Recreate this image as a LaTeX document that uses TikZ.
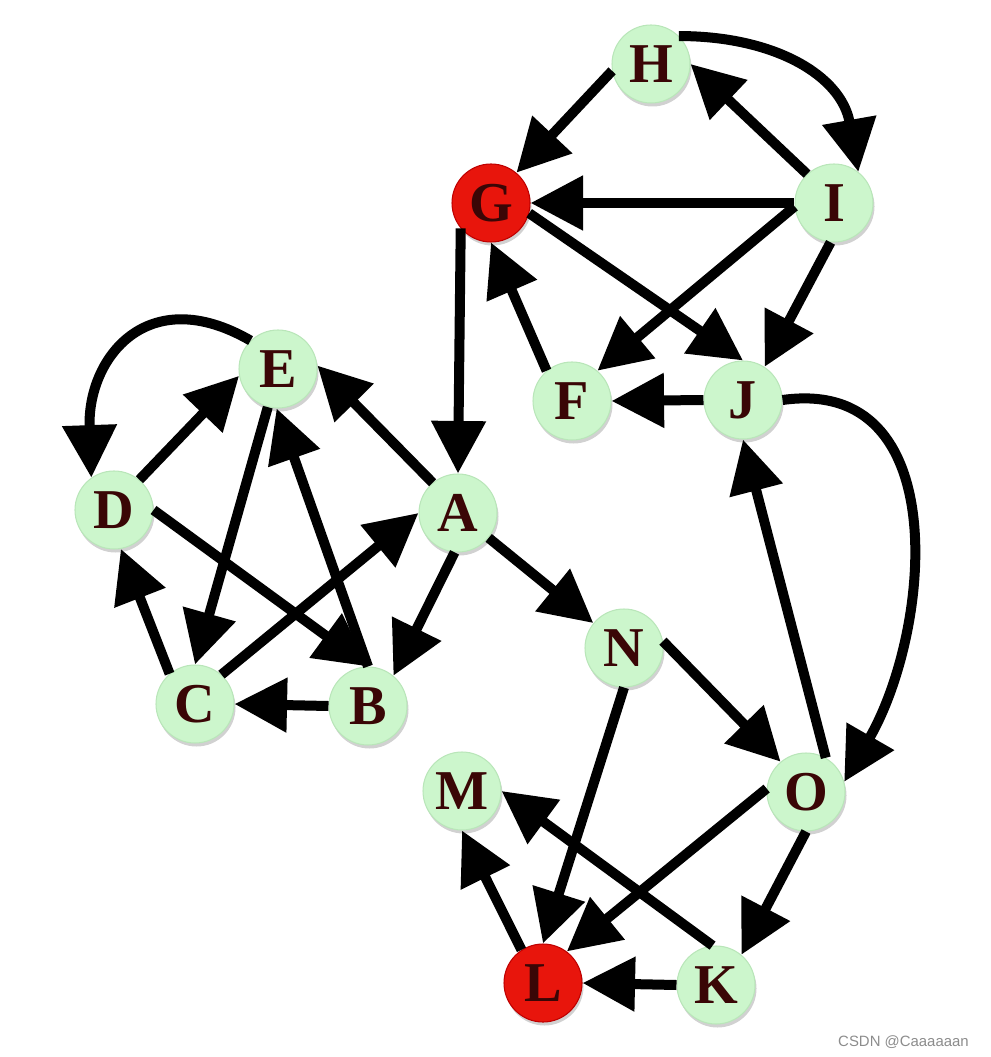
\documentclass[tikz,border=0pt]{standalone}
\usepackage{fontspec}
\setmainfont{Liberation Serif}
\newfontfamily\marksans{Liberation Sans}
\usetikzlibrary{arrows.meta, shadows}
\definecolor{vgreen}{HTML}{CCF6CC}
\definecolor{vrim}{HTML}{B9E6B9}
\definecolor{vred}{HTML}{E8150C}
\definecolor{vink}{HTML}{3A0606}

\begin{document}
\begin{tikzpicture}
                                [
                                    vertex/.style = {draw=vrim, fill=vgreen, shape=circle, minimum size=1.56cm, inner sep=0pt, line width=0.6pt, text=vink, font=\fontsize{32}{32}\selectfont\bfseries, drop shadow={shadow xshift=0.03cm, shadow yshift=-0.07cm, fill=black, opacity=0.18}},
                                    hot/.style = {vertex, draw=red!75!black, fill=vred},
                                    link/.style = {-{Triangle[length=1.05cm, width=1.05cm]}, line width=0.2cm},
                                ]
                                \useasboundingbox (0,0) rectangle (19.8,-21.14);

                                \node[vertex] (h) at (13.02,-1.28)  {H};
                                \node[hot]    (g) at (9.82,-4.06)   {G};
                                \node[vertex] (i) at (16.68,-4.06)  {I};
                                \node[vertex] (e) at (5.56,-7.38)   {E};
                                \node[vertex] (f) at (11.44,-8.02)  {F};
                                \node[vertex] (j) at (14.86,-8.00)  {J};
                                \node[vertex] (d) at (2.28,-10.20)  {D};
                                \node[vertex] (a) at (9.16,-10.26)  {A};
                                \node[vertex] (n) at (12.48,-12.96) {N};
                                \node[vertex] (c) at (3.90,-14.08)  {C};
                                \node[vertex] (b) at (7.36,-14.12)  {B};
                                \node[vertex] (m) at (9.24,-15.82)  {M};
                                \node[vertex] (o) at (16.12,-15.84) {O};
                                \node[hot]    (l) at (10.86,-19.66) {L};
                                \node[vertex] (k) at (14.32,-19.70) {K};

                                \node[text=black!45, font=\marksans\fontsize{8.5}{8.5}\selectfont, anchor=east] (mark) at (19.5,-20.84) {CSDN @Caaaaaan};

                                \draw [link] (h.190) -- (g.50);
                                \draw [link] (h.45) to[out=0, in=100, looseness=1.1] (i.52);
                                \draw [link] (i.133) -- (h.east);
                                \draw [link] (i.west) -- (g.east);
                                \draw [link] (i.185) -- (f.50);
                                \draw [link] (i.-95) -- (j.57);
                                \draw [link] (g.-15) -- (j.north);
                                \draw [link] (g.-140) -- (a.north);
                                \draw [link] (f.130) -- (g.-90);
                                \draw [link] (j.west) -- (f.east);
                                \draw [link] (j.east) to[out=8, in=60, looseness=1.15] (o.15);
                                \draw [link] (o.60) -- (j.south);

                                \draw [link] (e.134) to[out=150, in=92, looseness=1.45] (d.125);
                                \draw [link] (d.50) -- (e.190);
                                \draw [link] (d.east) -- (b.north);
                                \draw [link] (e.-105) -- (c.north);
                                \draw [link] (b.north) -- (e.-92);
                                \draw [link] (c.130) -- (d.-80);
                                \draw [link] (c.48) -- (a.west);
                                \draw [link] (a.130) -- (e.5);
                                \draw [link] (a.-95) -- (b.50);
                                \draw [link] (b.west) -- (c.east);

                                \draw [link] (a) -- (n);
                                \draw [link] (n.10) -- (o.130);
                                \draw [link] (n.south) -- (l.north);
                                \draw [link] (o.175) -- (l.53);
                                \draw [link] (o.south) -- (k.50);
                                \draw [link] (k.west) -- (l.east);
                                \draw [link] (k.95) -- (m.east);
                                \draw [link] (l.123) -- (m.south);
                            \end{tikzpicture}
\end{document}
